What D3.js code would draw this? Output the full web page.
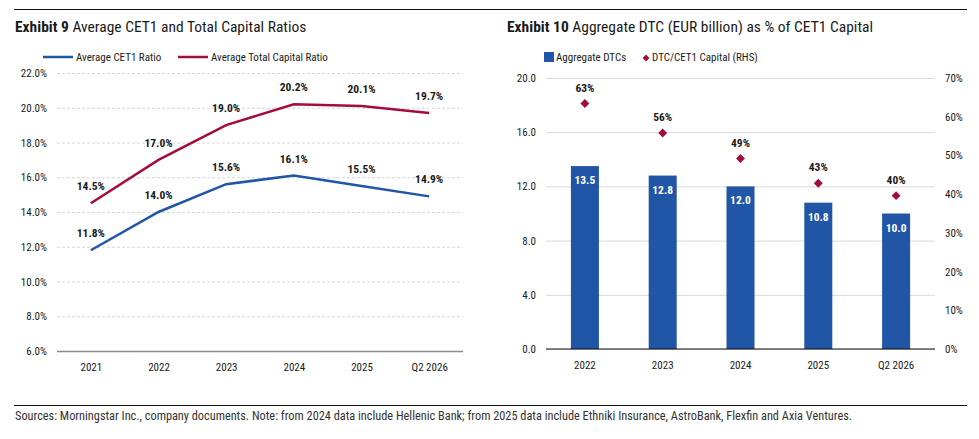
<!DOCTYPE html>
<html>
<head>
<meta charset="utf-8">
<script src="https://cdn.jsdelivr.net/npm/d3@7"></script>
<style>
  body { margin: 0; background: #fff; }
  svg { display: block; }
  text { font-family: 'Roboto Condensed', 'DejaVu Sans Condensed', 'Liberation Sans Narrow', 'Arial Narrow', Roboto, sans-serif; fill: #1a1a1a; }
</style>
</head>
<body>
<div id="chart"></div>
<script>
// Exhibit 9 data
const years = ["2021", "2022", "2023", "2024", "2025", "Q2 2026"];
const cet1Ratio = [11.8, 14.0, 15.6, 16.1, 15.5, 14.9];
const totalCapitalRatio = [14.5, 17.0, 19.0, 20.2, 20.1, 19.7];
const leftTicks = [6, 8, 10, 12, 14, 16, 18, 20, 22];

// Exhibit 10 data
const dtcYears = ["2022", "2023", "2024", "2025", "Q2 2026"];
const aggregateDtc = [13.5, 12.8, 12.0, 10.8, 10.0];
const dtcToCet1 = [63.4, 55.8, 49.2, 42.8, 39.6];
const dtcTicks = [0, 4, 8, 12, 16, 20];
const pctTicks = [0, 10, 20, 30, 40, 50, 60, 70];

const blue = "#2155a5", red = "#a30d3d";

const svg = d3.select("#chart").append("svg")
    .attr("width", 979)
    .attr("height", 439);

// Frame lines
svg.append("line").attr("x1", 14).attr("x2", 967).attr("y1", 9.5).attr("y2", 9.5)
    .attr("stroke", "#111").attr("stroke-width", 1.2);
svg.append("line").attr("x1", 14).attr("x2", 967).attr("y1", 405.5).attr("y2", 405.5)
    .attr("stroke", "#111").attr("stroke-width", 1.2);

svg.append("text")
    .attr("x", 15).attr("y", 420)
    .style("font-size", "12.3px")
    .style("fill", "#333")
    .text("Sources: Morningstar Inc., company documents. Note: from 2024 data include Hellenic Bank; from 2025 data include Ethniki Insurance, AstroBank, Flexfin and Axia Ventures.");

function title(x, bold, rest) {
    const t = svg.append("text").attr("x", x).attr("y", 32).style("font-size", "15.5px");
    t.append("tspan").style("font-weight", "bold").text(bold + " ");
    t.append("tspan").text(rest);
}

// ---------- Exhibit 9 ----------
title(15, "Exhibit 9", "Average CET1 and Total Capital Ratios");

const xL = d3.scalePoint().domain(years).range([57, 463]).padding(0.5);
const yL = d3.scaleLinear().domain([6, 22]).range([351, 73]);

const gridL = svg.append("g")
    .attr("transform", "translate(57,0)")
    .call(d3.axisLeft(yL).tickValues(leftTicks).tickSize(-406).tickPadding(10)
        .tickFormat(d => d.toFixed(1) + "%"));
gridL.select(".domain").remove();
gridL.selectAll(".tick line")
    .attr("stroke", d => d === 6 ? "#8c8c8c" : "#d6d6d6")
    .attr("stroke-width", d => d === 6 ? 1.5 : 1)
    .attr("stroke-dasharray", d => d === 6 ? null : "3,2");
gridL.selectAll(".tick text").style("font-size", "11px").attr("fill", "#1a1a1a");

const xAxisL = svg.append("g")
    .attr("transform", "translate(0,351)")
    .call(d3.axisBottom(xL).tickSize(0).tickPadding(12));
xAxisL.select(".domain").remove();
xAxisL.selectAll(".tick text").style("font-size", "11px").attr("fill", "#1a1a1a");

const line = d3.line().x((d, i) => xL(years[i])).y(d => yL(d));

[[totalCapitalRatio, red], [cet1Ratio, blue]].forEach(([vals, c]) => {
    svg.append("path")
        .datum(vals)
        .attr("fill", "none")
        .attr("stroke", c)
        .attr("stroke-width", 2.5)
        .attr("d", line);
    svg.selectAll(null)
        .data(vals)
        .enter()
        .append("text")
        .attr("x", (d, i) => xL(years[i]))
        .attr("y", d => yL(d) - 13)
        .attr("text-anchor", "middle")
        .style("font-size", "11.5px")
        .style("font-weight", "bold")
        .text(d => d.toFixed(1) + "%");
});

// legend
const legL = [["Average CET1 Ratio", blue, 43], ["Average Total Capital Ratio", red, 178]];
legL.forEach(([name, c, lx]) => {
    svg.append("line").attr("x1", lx).attr("x2", lx + 30).attr("y1", 57).attr("y2", 57)
        .attr("stroke", c).attr("stroke-width", 2.5);
    svg.append("text").attr("x", lx + 33).attr("y", 57).attr("dy", ".35em")
        .style("font-size", "11px").text(name);
});

// ---------- Exhibit 10 ----------
title(507, "Exhibit 10", "Aggregate DTC (EUR billion) as % of CET1 Capital");

const xR = d3.scaleBand().domain(dtcYears).range([546, 935]).paddingInner(0.64).paddingOuter(0.32);
const yR = d3.scaleLinear().domain([0, 20]).range([349, 78]);
const yR2 = d3.scaleLinear().domain([0, 70]).range([349, 78]);

const gridR = svg.append("g")
    .attr("transform", "translate(546,0)")
    .call(d3.axisLeft(yR).tickValues(dtcTicks).tickSize(-389).tickPadding(10)
        .tickFormat(d3.format(".1f")));
gridR.select(".domain").remove();
gridR.selectAll(".tick line")
    .attr("stroke", "#d9d9d9")
    .attr("stroke-width", 1);
gridR.selectAll(".tick text").style("font-size", "11px").attr("fill", "#1a1a1a");

const rightAxis = svg.append("g")
    .attr("transform", "translate(935,0)")
    .call(d3.axisRight(yR2).tickValues(pctTicks).tickSize(0).tickPadding(10)
        .tickFormat(d => d + "%"));
rightAxis.select(".domain").remove();
rightAxis.selectAll(".tick text").style("font-size", "11px").attr("fill", "#1a1a1a");

svg.selectAll(".bar")
    .data(aggregateDtc)
    .enter()
    .append("rect")
    .attr("class", "bar")
    .attr("x", (d, i) => xR(dtcYears[i]))
    .attr("y", d => yR(d))
    .attr("width", xR.bandwidth())
    .attr("height", d => yR(0) - yR(d))
    .attr("fill", blue);

svg.selectAll(".bar-label")
    .data(aggregateDtc)
    .enter()
    .append("text")
    .attr("class", "bar-label")
    .attr("x", (d, i) => xR(dtcYears[i]) + xR.bandwidth() / 2)
    .attr("y", d => yR(d) + 14)
    .attr("dy", ".35em")
    .attr("text-anchor", "middle")
    .style("font-size", "11.5px")
    .style("font-weight", "bold")
    .style("fill", "#fff")
    .text(d => d.toFixed(1));

svg.append("line").attr("x1", 546).attr("x2", 935).attr("y1", yR(0)).attr("y2", yR(0))
    .attr("stroke", "#111").attr("stroke-width", 1.2);

const xAxisR = svg.append("g")
    .attr("transform", "translate(0,349)")
    .call(d3.axisBottom(xR).tickSize(0).tickPadding(12));
xAxisR.select(".domain").remove();
xAxisR.selectAll(".tick text").style("font-size", "11px").attr("fill", "#1a1a1a");

const diamond = d3.symbol().type(d3.symbolDiamond2).size(50);

svg.selectAll(".dot")
    .data(dtcToCet1)
    .enter()
    .append("path")
    .attr("class", "dot")
    .attr("d", diamond)
    .attr("transform", (d, i) => `translate(${xR(dtcYears[i]) + xR.bandwidth() / 2},${yR2(d)})`)
    .attr("fill", red);

svg.selectAll(".dot-label")
    .data(dtcToCet1)
    .enter()
    .append("text")
    .attr("class", "dot-label")
    .attr("x", (d, i) => xR(dtcYears[i]) + xR.bandwidth() / 2)
    .attr("y", d => yR2(d) - 12)
    .attr("text-anchor", "middle")
    .style("font-size", "11.5px")
    .style("font-weight", "bold")
    .text(d => Math.round(d) + "%");

// legend
svg.append("rect").attr("x", 544).attr("y", 52).attr("width", 10).attr("height", 10).attr("fill", blue);
svg.append("text").attr("x", 556).attr("y", 57).attr("dy", ".35em")
    .style("font-size", "11px").text("Aggregate DTCs");
svg.append("path").attr("d", d3.symbol().type(d3.symbolDiamond2).size(30))
    .attr("transform", "translate(646,58)").attr("fill", red);
svg.append("text").attr("x", 652).attr("y", 57).attr("dy", ".35em")
    .style("font-size", "11px").text("DTC/CET1 Capital (RHS)");
</script>
</body>
</html>
